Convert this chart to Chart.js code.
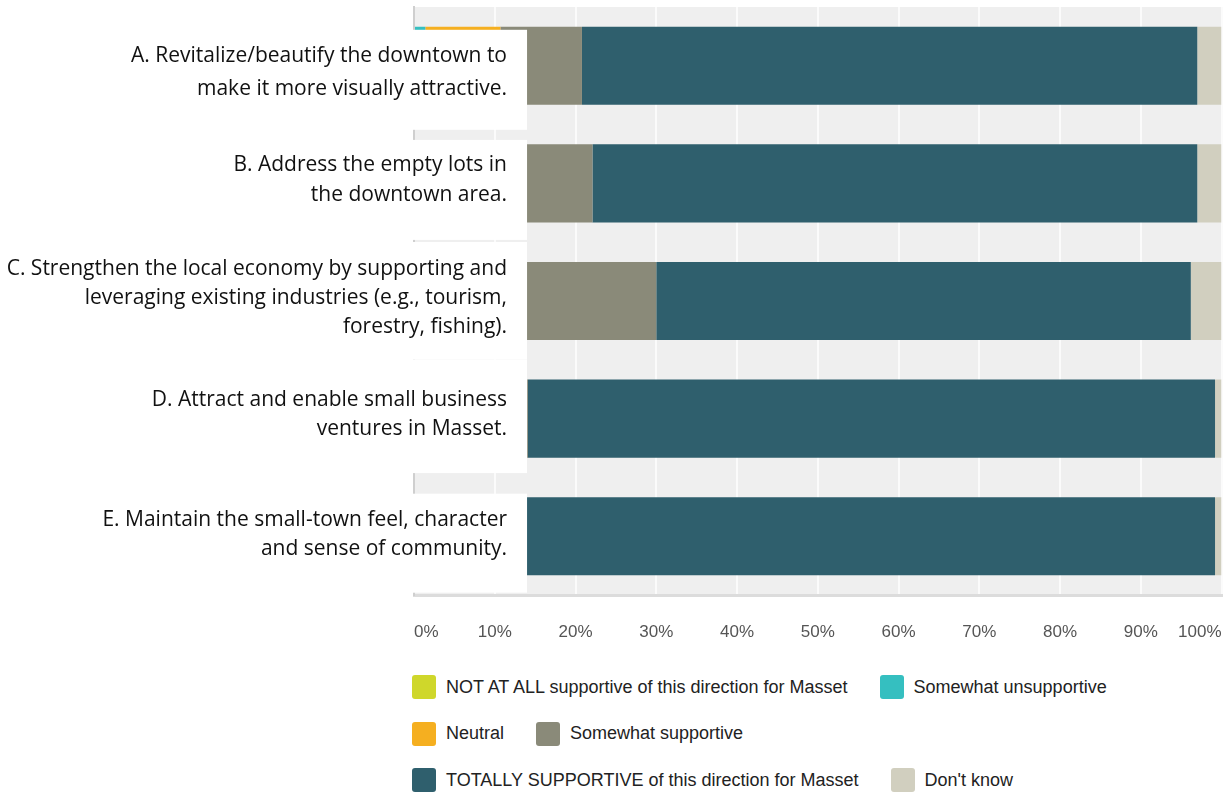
<!DOCTYPE html>
<html>
<head>
<meta charset="utf-8">
<script src="https://cdn.jsdelivr.net/npm/chart.js@4.4.1/dist/chart.umd.min.js"></script>
<style>
  body { margin: 0; background: #fff; }
  #wrap { position: relative; width: 1226px; height: 793px; overflow: hidden; }
  #chart { position: absolute; left: 0; top: 0; }
  #legend {
    position: absolute; left: 412px; top: 675px; width: 760px;
    display: flex; flex-wrap: wrap; column-gap: 32px; row-gap: 22.5px;
    font-family: "Liberation Sans", Arial, sans-serif; font-size: 18px; color: #222;
  }
  .item { display: flex; align-items: center; height: 24px; white-space: nowrap; }
  .swatch { width: 24px; height: 24px; border-radius: 3px; margin-right: 10px; }
</style>
</head>
<body>
<div id="wrap">
  <canvas id="chart" width="1226" height="655"></canvas>
  <div id="legend"></div>
</div>
<script>
// --- Data ---
const categories = [
    ['A. Revitalize/beautify the downtown to', 'make it more visually attractive.'],
    ['B. Address the empty lots in', 'the downtown area.'],
    ['C. Strengthen the local economy by supporting and', 'leveraging existing industries (e.g., tourism,', 'forestry, fishing).'],
    ['D. Attract and enable small business', 'ventures in Masset.'],
    ['E. Maintain the small-town feel, character', 'and sense of community.']
];
const seriesNames = [
    'NOT AT ALL supportive of this direction for Masset',
    'Somewhat unsupportive',
    'Neutral',
    'Somewhat supportive',
    'TOTALLY SUPPORTIVE of this direction for Masset',
    "Don't know"
];
const notAtAll      = [0, 0, 0, 0, 0];
const unsupportive  = [1.4, 1, 2, 0, 0];
const neutral       = [9.3, 7, 8, 4, 3];
const somewhatSupp  = [10.1, 14.1, 20, 10.1, 9];
const totallySupp   = [76.2, 74.9, 66.2, 85.1, 87.2];
const dontKnow      = [3, 3, 3.8, 0.8, 0.8];
const xTicks = ['0%', '10%', '20%', '30%', '40%', '50%', '60%', '70%', '80%', '90%', '100%'];

const seriesValues = [notAtAll, unsupportive, neutral, somewhatSupp, totallySupp, dontKnow];
const seriesColors = ['#cfd72b', '#35bfc0', '#f5af20', '#8a8a79', '#2f5f6d', '#d1cfbf'];

// --- Label panel layout (pasted-over boxes, offsets from bar centre) ---
const boxTop    = [-36, -43.5, -59, -58.75, -42.5];
const boxBottom = [64, 56.5, 58.75, 54.5, 56.5];
const labelShift   = [6.5, -3.5, -3, -4, -2];
const labelLeading = [33, 30, 29, 29, 29];

const plotBackground = {
    id: 'plotBackground',
    beforeDraw(chart) {
        const { ctx, chartArea: a } = chart;
        ctx.save();
        ctx.fillStyle = '#efefef';
        ctx.fillRect(a.left, a.top, a.right - a.left, a.bottom - a.top);
        ctx.restore();
    }
};

const labelPanel = {
    id: 'labelPanel',
    afterDatasetsDraw(chart) {
        const { ctx } = chart;
        const y = chart.scales.y;
        const right = chart.scales.x.getPixelForValue(14);
        ctx.save();
        categories.forEach((lines, i) => {
            const c = y.getPixelForValue(i);
            ctx.fillStyle = '#ffffff';
            ctx.fillRect(0, c + boxTop[i], right, boxBottom[i] - boxTop[i]);
        });
        ctx.fillStyle = '#111';
        ctx.font = '21px "Open Sans", sans-serif';
        ctx.textAlign = 'right';
        ctx.textBaseline = 'middle';
        categories.forEach((lines, i) => {
            const c = y.getPixelForValue(i) + labelShift[i];
            const lh = labelLeading[i];
            const start = c - (lines.length - 1) * lh / 2;
            lines.forEach((t, j) => ctx.fillText(t, 507, start + j * lh));
        });
        ctx.restore();
    }
};

new Chart(document.getElementById('chart'), {
    type: 'bar',
    data: {
        labels: categories.map(l => l.join(' ')),
        datasets: seriesNames.map((name, i) => ({
            label: name,
            data: seriesValues[i],
            backgroundColor: seriesColors[i],
            borderWidth: 0,
            categoryPercentage: 1,
            barPercentage: 0.664
        }))
    },
    options: {
        indexAxis: 'y',
        responsive: false,
        animation: false,
        layout: { padding: { left: 414, right: 4.5, top: 7, bottom: 0 } },
        plugins: {
            legend: { display: false },
            tooltip: { enabled: false }
        },
        scales: {
            x: {
                stacked: true,
                min: 0,
                max: 100,
                afterFit: s => {
                    s.height = 60;
                    s.paddingLeft = 0;
                    s.paddingRight = 0;
                },
                afterBuildTicks: s => {
                    s.ticks = xTicks.map((_, i) => ({ value: i * 10 }));
                },
                grid: { color: '#fbfbfb', lineWidth: 2, drawTicks: false },
                border: { display: true, color: '#dcdcdc', width: 3 },
                ticks: {
                    align: 'inner',
                    padding: 27,
                    color: '#555',
                    font: { family: '"Liberation Sans", Arial, sans-serif', size: 17 },
                    callback: (v, i) => xTicks[i]
                }
            },
            y: {
                stacked: true,
                afterFit: s => { s.width = 0; },
                grid: { display: false, drawTicks: false },
                border: { display: true, color: '#cfcfcf', width: 2 },
                ticks: { display: false }
            }
        }
    },
    plugins: [plotBackground, labelPanel]
});

// --- HTML legend ---
const legend = document.getElementById('legend');
seriesNames.forEach((name, i) => {
    const item = document.createElement('div');
    item.className = 'item';
    const sw = document.createElement('span');
    sw.className = 'swatch';
    sw.style.background = seriesColors[i];
    const txt = document.createElement('span');
    txt.textContent = name;
    item.appendChild(sw);
    item.appendChild(txt);
    legend.appendChild(item);
});
</script>
</body>
</html>
